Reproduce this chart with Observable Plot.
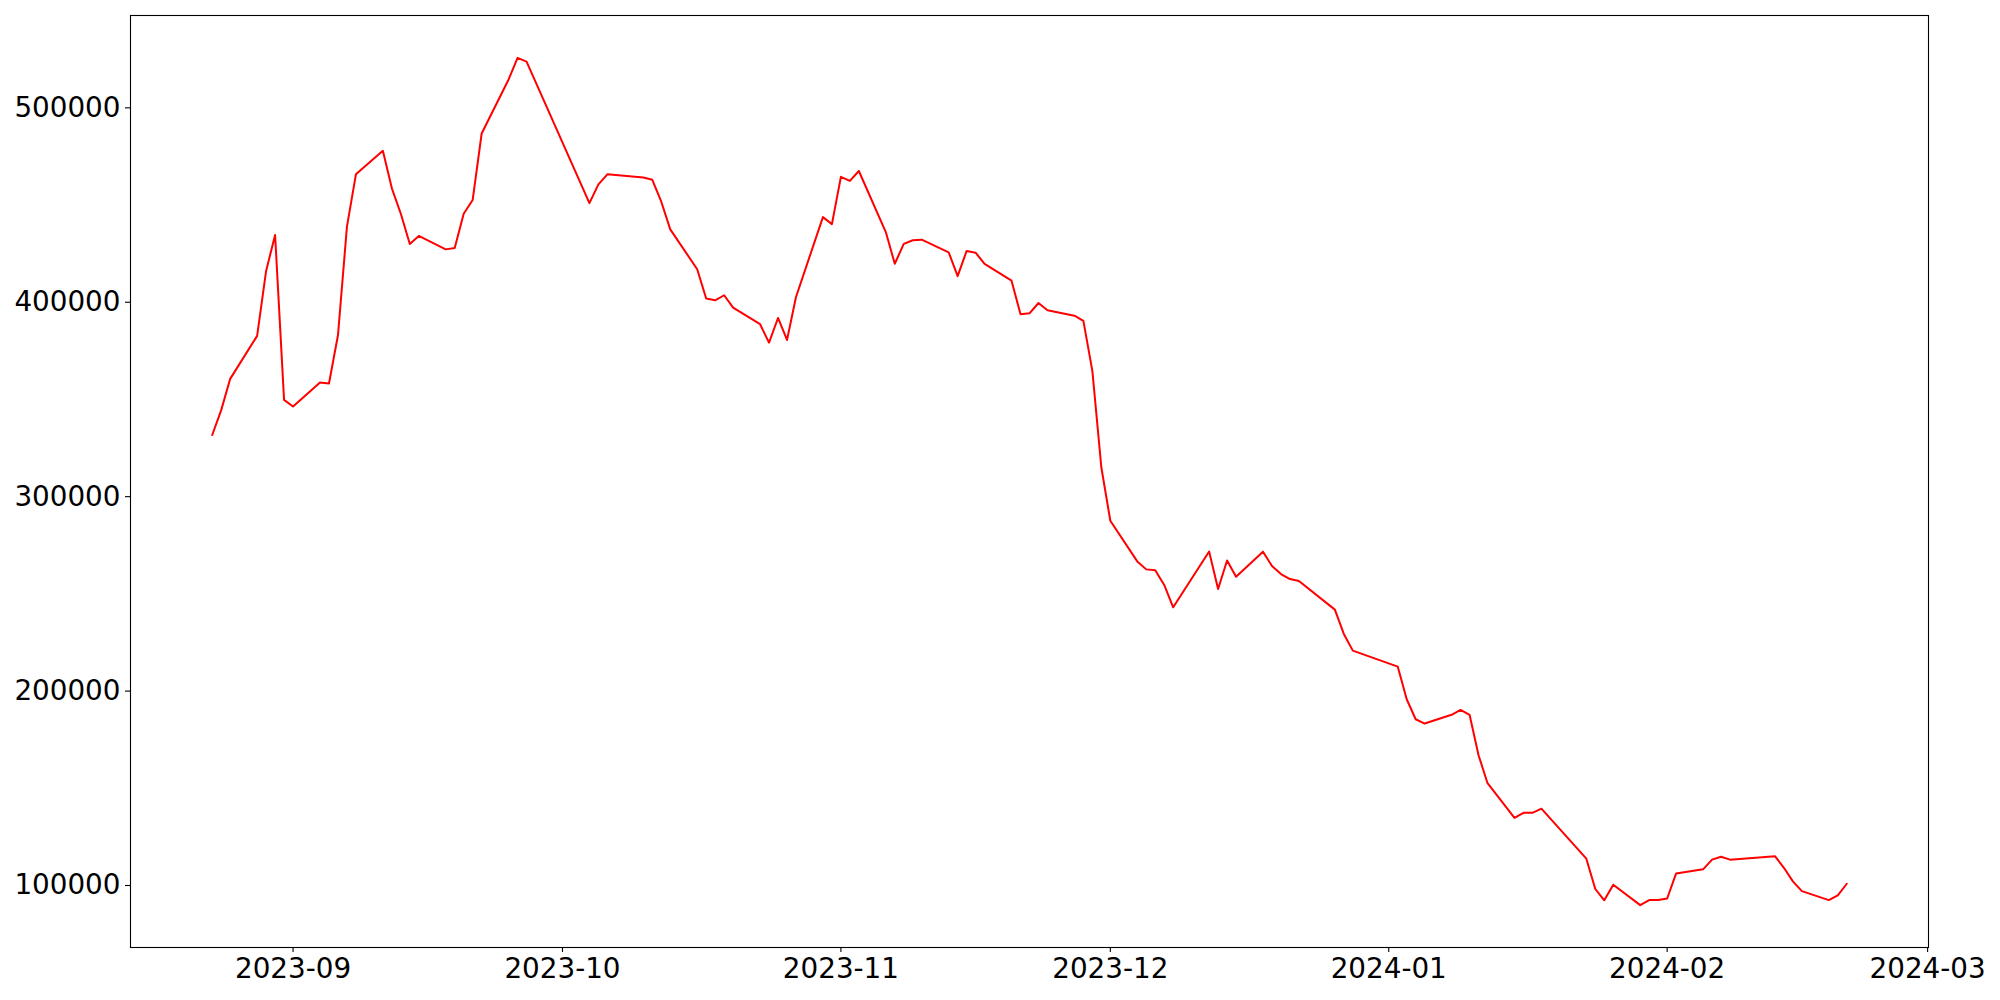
<!DOCTYPE html>
<html>
<head>
<meta charset="utf-8">
<script src="https://cdn.jsdelivr.net/npm/d3@7"></script>
<script src="https://cdn.jsdelivr.net/npm/@observablehq/plot@0.6"></script>
<style>
  html, body { margin: 0; padding: 0; background: white; }
  #chart { width: 2000px; height: 1000px; }
</style>
</head>
<body>
<div id="chart"></div>
<script>
const dates = [
  "2023-08-23","2023-08-24","2023-08-25","2023-08-28","2023-08-29","2023-08-30","2023-08-31",
  "2023-09-01","2023-09-04","2023-09-05","2023-09-06","2023-09-07","2023-09-08",
  "2023-09-11","2023-09-12","2023-09-13","2023-09-14","2023-09-15",
  "2023-09-18","2023-09-19","2023-09-20","2023-09-21","2023-09-22",
  "2023-09-25","2023-09-26","2023-09-27",
  "2023-10-04","2023-10-05","2023-10-06",
  "2023-10-10","2023-10-11","2023-10-12","2023-10-13",
  "2023-10-16","2023-10-17","2023-10-18","2023-10-19","2023-10-20",
  "2023-10-23","2023-10-24","2023-10-25","2023-10-26","2023-10-27",
  "2023-10-30","2023-10-31","2023-11-01","2023-11-02","2023-11-03",
  "2023-11-06","2023-11-07","2023-11-08","2023-11-09","2023-11-10",
  "2023-11-13","2023-11-14","2023-11-15","2023-11-16","2023-11-17",
  "2023-11-20","2023-11-21","2023-11-22","2023-11-23","2023-11-24",
  "2023-11-27","2023-11-28","2023-11-29","2023-11-30","2023-12-01",
  "2023-12-04","2023-12-05","2023-12-06","2023-12-07","2023-12-08",
  "2023-12-12","2023-12-13","2023-12-14","2023-12-15",
  "2023-12-18","2023-12-19","2023-12-20","2023-12-21","2023-12-22",
  "2023-12-26","2023-12-27","2023-12-28",
  "2024-01-02","2024-01-03","2024-01-04","2024-01-05",
  "2024-01-08","2024-01-09","2024-01-10","2024-01-11","2024-01-12",
  "2024-01-15","2024-01-16","2024-01-17","2024-01-18",
  "2024-01-23","2024-01-24","2024-01-25","2024-01-26",
  "2024-01-29","2024-01-30","2024-01-31","2024-02-01","2024-02-02",
  "2024-02-05","2024-02-06","2024-02-07","2024-02-08",
  "2024-02-13","2024-02-14","2024-02-15","2024-02-16",
  "2024-02-19","2024-02-20","2024-02-21"
];

const values = [
  331700, 344500, 360600, 382700, 416100, 434600, 349800,
  346400, 358700, 358200, 383000, 438900, 465800,
  477900, 458600, 445500, 430000, 434100,
  427200, 427900, 445500, 452600, 486800,
  514600, 525700, 523800,
  451000, 460600, 465800,
  464200, 463000, 451700, 437500,
  417000, 401900, 401000, 403600, 397200,
  388700, 379200, 391900, 380600, 402700,
  443800, 440200, 464500, 462400, 467500,
  436100, 419800, 430000, 431900, 432200,
  425700, 413400, 426400, 425500, 419700,
  411100, 393800, 394300, 399600, 395900,
  393100, 390400, 364700, 315000, 287600,
  266700, 262600, 262100, 254600, 243100,
  271800, 252500, 267200, 258800,
  271700, 264300, 260200, 257600, 256600,
  241900, 229400, 220800,
  212600, 195800, 185500, 183300,
  187800, 190300, 187800, 167000, 152600,
  134800, 137400, 137400, 139500,
  113800, 98200, 92400, 100400,
  89900, 92500, 92500, 93300, 106200,
  108300, 113300, 114800, 113300,
  115100, 109100, 102100, 97100,
  92500, 94900, 100900
];

const xTickLabels = ["2023-09","2023-10","2023-11","2023-12","2024-01","2024-02","2024-03"];
const yTicks = [100000, 200000, 300000, 400000, 500000];

const data = dates.map((d, i) => ({date: new Date(d + "T00:00:00Z"), value: values[i]}));

const [xmin, xmax] = d3.extent(data, d => d.date.getTime());
const xpad = (xmax - xmin) * 0.05;
const [ymin, ymax] = d3.extent(values);
const ypad = (ymax - ymin) * 0.05;

const xTicks = xTickLabels.map(s => new Date(s + "-01T00:00:00Z"));

const chart = Plot.plot({
  width: 2000,
  height: 1000,
  marginLeft: 130,
  marginRight: 72,
  marginTop: 15,
  marginBottom: 53,
  style: {fontFamily: "DejaVu Sans", fontSize: "27.8px", color: "black", background: "white"},
  x: {type: "utc", domain: [new Date(xmin - xpad), new Date(xmax + xpad)]},
  y: {domain: [ymin - ypad, ymax + ypad]},
  marks: [
    Plot.line(data, {x: "date", y: "value", stroke: "red", strokeWidth: 2}),
    Plot.frame({stroke: "black", strokeWidth: 1.1}),
    Plot.axisX({ticks: xTicks, tickFormat: d3.utcFormat("%Y-%m"), tickSize: 5, tickPadding: 6, strokeWidth: 1.1, label: null, fontSize: 27.8}),
    Plot.axisY({ticks: yTicks, tickFormat: d => String(d), tickSize: 5, tickPadding: 5, strokeWidth: 1.1, label: null, fontSize: 27.8})
  ]
});
document.getElementById("chart").appendChild(chart);
</script>
</body>
</html>
